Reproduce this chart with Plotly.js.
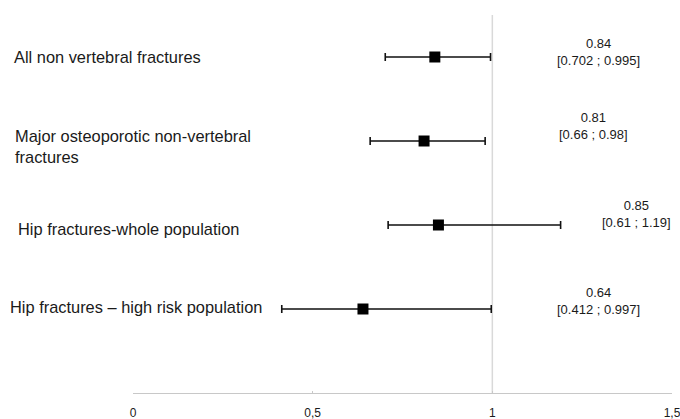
<!DOCTYPE html>
<html>
<head>
<meta charset="utf-8">
<script src="https://cdn.plot.ly/plotly-3.0.1.min.js"></script>
<style>html,body{margin:0;padding:0;background:#fff;}#chart{width:680px;height:419px;}</style>
</head>
<body>
<div id="chart"></div>
<script>
// Data
var categories = [
  "All non vertebral fractures",
  "Major osteoporotic non-vertebral<br>fractures",
  "Hip fractures-whole population",
  "Hip fractures \u2013 high risk population"
];
var estimates = [0.84, 0.81, 0.85, 0.64];
var lowerDrawn = [0.702, 0.66, 0.71, 0.414];
var upperDrawn = [0.995, 0.98, 1.19, 0.997];
var estimateLabels = ["0.84", "0.81", "0.85", "0.64"];
var ciLabels = ["[0.702 ; 0.995]", "[0.66 ; 0.98]", "[0.61 ; 1.19]", "[0.412 ; 0.997]"];
var rowPos = [4, 3, 2, 1];
var tickVals = [0, 0.5, 1, 1.5];
var tickText = ["0", "0,5", "1", "1,5"];

// style / layout helpers
var labelPx = [12, 13, 16, 8];
var labelShift = [0, -5, -4, 2];
var valueX = [1.295, 1.282, 1.4, 1.295];
var valueShift = [5, 15, 11, 8];
var plotLeft = 133, plotWidth = 539;
var FONT = "Liberation Sans, Arial, sans-serif";

var trace = {
  type: "scatter",
  mode: "markers",
  x: estimates,
  y: rowPos,
  marker: {symbol: "square", size: 11, color: "#000"},
  error_x: {
    type: "data",
    symmetric: false,
    array: upperDrawn.map(function(u, i){ return u - estimates[i]; }),
    arrayminus: lowerDrawn.map(function(l, i){ return estimates[i] - l; }),
    color: "#111",
    thickness: 1.6,
    width: 4
  },
  hoverinfo: "skip",
  showlegend: false
};

var annotations = [];
categories.forEach(function(c, i){
  annotations.push({
    text: c, xref: "paper", yref: "y",
    x: (labelPx[i] - plotLeft) / plotWidth, y: rowPos[i], yshift: labelShift[i],
    xanchor: "left", yanchor: "middle", align: "left",
    showarrow: false,
    font: {family: FONT, size: 16.4, color: "#1a1a1a"}
  });
  annotations.push({
    text: estimateLabels[i] + "<br>" + ciLabels[i], xref: "x", yref: "y",
    x: valueX[i], y: rowPos[i], yshift: valueShift[i],
    xanchor: "center", yanchor: "middle", align: "center",
    showarrow: false,
    font: {family: FONT, size: 13, color: "#1a1a1a"}
  });
});

var layout = {
  width: 680, height: 419,
  margin: {l: plotLeft, r: 680 - plotLeft - plotWidth, t: 10, b: 26},
  paper_bgcolor: "#fff", plot_bgcolor: "#fff",
  xaxis: {
    range: [0, 1.5], tickvals: tickVals, ticktext: tickText,
    showgrid: false, zeroline: false,
    showline: true, linecolor: "#c8c8c8", linewidth: 1,
    ticks: "inside", ticklen: 2, tickcolor: "#c8c8c8",
    ticklabeloverflow: "allow", ticklabelstandoff: 9,
    tickfont: {family: FONT, size: 12, color: "#1a1a1a"}
  },
  yaxis: {
    range: [0, 383/84], showgrid: false, zeroline: false,
    showticklabels: false, showline: false, ticks: ""
  },
  shapes: [{
    type: "line", xref: "x", yref: "y", x0: 1, x1: 1, y0: 0, y1: 4.5,
    line: {color: "#d9d9d9", width: 1.5}, layer: "below"
  }],
  annotations: annotations
};

Plotly.newPlot("chart", [trace], layout, {displayModeBar: false, staticPlot: true});
</script>
</body>
</html>
